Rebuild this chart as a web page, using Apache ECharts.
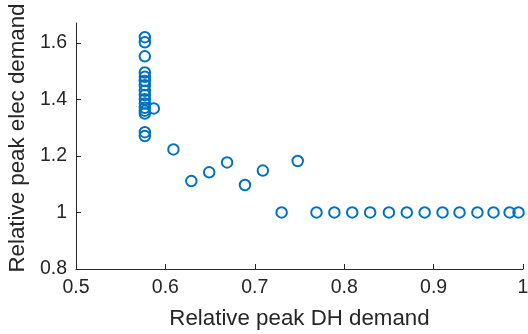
<!DOCTYPE html>
<html><head><meta charset="utf-8">
<script src="https://cdn.jsdelivr.net/npm/echarts@6/dist/echarts.min.js"></script>
<style>html,body{margin:0;padding:0;background:#fff}#c{width:528px;height:334px}</style>
</head><body><div id="c"></div>
<script>
const xVals = [0.577,0.577,0.577,0.577,0.577,0.577,0.577,0.577,0.577,0.577,0.577,0.577,0.577,0.577,0.577,0.577,0.587,
  0.609,0.629,0.649,0.669,0.689,0.709,0.748,
  0.730,0.769,0.789,0.809,0.829,0.850,0.870,0.890,0.910,0.929,0.949,0.967,0.985,0.995];
const yVals = [1.620,1.602,1.552,1.495,1.480,1.465,1.450,1.430,1.415,1.400,1.385,1.370,1.360,1.350,1.284,1.270,1.368,
  1.223,1.111,1.142,1.177,1.097,1.148,1.182,
  1.0,1.0,1.0,1.0,1.0,1.0,1.0,1.0,1.0,1.0,1.0,1.0,1.0,1.0];
const xTicks = [0.5,0.6,0.7,0.8,0.9,1];
const yTicks = [0.8,1,1.2,1.4,1.6];
const xTitle = 'Relative peak DH demand';
const yTitle = 'Relative peak elec demand';

const pts = xVals.map((x,i)=>[x,yVals[i]]);
const axisCol = '#262626';
const font = 'Liberation Sans, Arial, sans-serif';
const chart = echarts.init(document.getElementById('c'), null, {renderer:'canvas'});
chart.setOption({
  animation:false,
  grid:{left:76,right:5,top:23,bottom:65,containLabel:false,outerBoundsMode:'none'},
  xAxis:{type:'value',min:0.5,max:1,interval:0.1,
    name:xTitle,nameLocation:'middle',nameGap:39,
    nameTextStyle:{color:axisCol,fontSize:22.3,fontFamily:font},
    axisLine:{show:true,lineStyle:{color:axisCol,width:1}},
    axisTick:{show:true,inside:true,length:5,lineStyle:{color:axisCol}},
    axisLabel:{color:axisCol,fontSize:19.5,fontFamily:font,margin:9,
      formatter:v=>String(Math.round(v*10)/10)},
    splitLine:{show:false}},
  yAxis:{type:'value',min:0.8,max:1.67,
    name:yTitle,nameLocation:'middle',nameGap:45,
    nameTextStyle:{color:axisCol,fontSize:22.3,fontFamily:font,padding:[0,0,0,16]},
    axisLine:{show:true,lineStyle:{color:axisCol,width:1}},
    axisTick:{show:true,inside:true,length:5,customValues:yTicks,lineStyle:{color:axisCol}},
    axisLabel:{color:axisCol,fontSize:19.5,fontFamily:font,margin:9,customValues:yTicks,
      formatter:v=>String(Math.round(v*10)/10)},
    splitLine:{show:false}},
  series:[{type:'scatter',data:pts,symbol:'circle',symbolSize:10.5,
    itemStyle:{color:'rgba(0,0,0,0)',borderColor:'#0072BD',borderWidth:2,opacity:1},
    emphasis:{disabled:true}}]
});
</script></body></html>
